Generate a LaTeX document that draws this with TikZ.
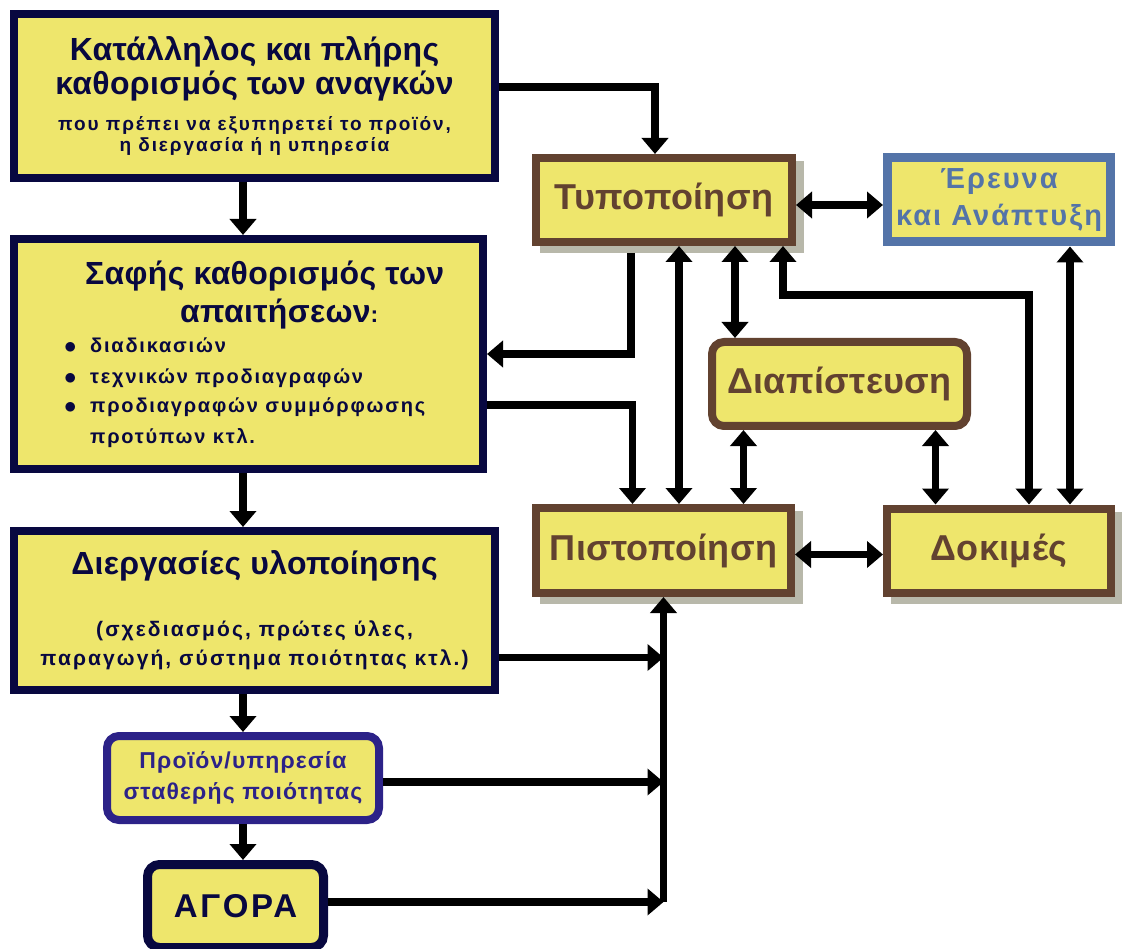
\documentclass[tikz,border=0pt]{standalone}
\usepackage{fontspec}
\setmainfont{Liberation Sans}[LetterSpace=1]
\usetikzlibrary{arrows.meta,positioning,calc,shadows}
\definecolor{boxfill}{RGB}{238,230,108}
\definecolor{navy}{RGB}{8,8,64}
\definecolor{umber}{RGB}{98,66,48}
\definecolor{steel}{RGB}{84,116,168}
\definecolor{indigo}{RGB}{44,34,136}
\definecolor{shade}{RGB}{184,184,170}
\newcommand{\bigtxt}{\fontsize{32pt}{34pt}\selectfont\bfseries}
\newcommand{\subtxt}{\fontsize{19pt}{21pt}\selectfont\bfseries\addfontfeatures{LetterSpace=10}}
\newcommand{\listtxt}{\fontsize{20pt}{29pt}\selectfont\bfseries\addfontfeatures{LetterSpace=9}}
\newcommand{\proctxt}{\fontsize{21pt}{29pt}\selectfont\bfseries\addfontfeatures{LetterSpace=10}}
\newcommand{\prodtxt}{\fontsize{23pt}{31pt}\selectfont\bfseries\addfontfeatures{LetterSpace=5}}
\newcommand{\boxtxt}{\fontsize{36pt}{38pt}\selectfont\bfseries}
\newcommand{\rdtxt}{\fontsize{29pt}{37pt}\selectfont\bfseries\addfontfeatures{LetterSpace=7}}
\newcommand{\agoratxt}{\fontsize{33pt}{36pt}\selectfont\bfseries\addfontfeatures{LetterSpace=8}}
\newcommand{\dotmark}{\makebox[26pt][l]{\raisebox{-1pt}{\fontsize{26pt}{26pt}\selectfont$\bullet$}}}
\tikzset{
  >={Triangle[width=26pt,length=16pt]},
  font=\bfseries,
  yel/.style      ={fill=boxfill, align=center, inner sep=0pt},
  navybox/.style  ={yel, draw=navy, text=navy, line width=8pt},
  navyround/.style={yel, draw=navy, text=navy, line width=9pt, rounded corners=12pt},
  prodbox/.style  ={yel, draw=indigo, text=indigo, line width=8pt, rounded corners=12pt},
  brownbox/.style ={yel, draw=umber, text=umber, line width=8pt, minimum width=255pt, minimum height=84pt, font=\boxtxt},
  shadowed/.style ={drop shadow={shadow xshift=8pt, shadow yshift=-7pt, fill=shade, draw=shade, opacity=1}},
  rdbox/.style    ={yel, draw=steel, text=steel, line width=9pt},
  itm/.style      ={anchor=base west, inner sep=0pt, text=navy},
  arr/.style      ={->, line width=7.5pt},
  dbl/.style      ={<->, line width=7.5pt},
}

\begin{document}
\begin{tikzpicture}
  \useasboundingbox (0,0) rectangle (1122pt,-949pt);

  % left column
  \node[navybox, font=\bigtxt, minimum width=481pt, minimum height=164pt] (need) at (254.5pt,-96pt)
    {Κατάλληλος και πλήρης\\ καθορισμός των αναγκών\\[2pt]
     \subtxt που πρέπει να εξυπηρετεί το προϊόν,\\[-13pt] \subtxt η διεργασία ή η υπηρεσία};
  \node[navybox, minimum width=469pt, minimum height=230pt, below=53pt of need.south west, anchor=north west] (breq) {};
  \node[itm, font=\bigtxt] (breqa) at ([shift={(75pt,-50pt)}]breq.north west) {Σαφής καθορισμός των};
  \node[itm, font=\bigtxt] (breqb) at ([shift={(170pt,-88pt)}]breq.north west) {απαιτήσεων{\prodtxt :}};
  \node[itm, font=\listtxt] (item1) at ([shift={(54pt,-118pt)}]breq.north west) {\dotmark διαδικασιών};
  \node[itm, font=\listtxt] (item2) at ([shift={(54pt,-149pt)}]breq.north west) {\dotmark τεχνικών προδιαγραφών};
  \node[itm, font=\listtxt] (item3) at ([shift={(54pt,-178pt)}]breq.north west) {\dotmark προδιαγραφών συμμόρφωσης};
  \node[itm, font=\listtxt] (item4) at ([shift={(80pt,-208pt)}]breq.north west) {προτύπων κτλ.};
  \node[navybox, font=\bigtxt, minimum width=481pt, minimum height=159pt, below=54pt of breq.south west, anchor=north west] (proc)
    {Διεργασίες υλοποίησης\\[28pt]
     \proctxt (σχεδιασμός, πρώτες ύλες,\\[-5pt] \proctxt παραγωγή, σύστημα ποιότητας κτλ.)};
  \node[prodbox, font=\prodtxt, minimum width=272pt, minimum height=84pt, below right=38pt and 93pt of proc.south west, anchor=north west] (prod)
    {Προϊόν/υπηρεσία\\ σταθερής ποιότητας};
  \node[navyround, font=\agoratxt, minimum width=176pt, minimum height=83pt, below right=36pt and 40pt of prod.south west, anchor=north west] (agora)
    {ΑΓΟΡΑ};

  % right part
  \node[brownbox, shadowed, minimum width=256pt, below right=144pt and 33pt of need.north east, anchor=north west] (typ)
    {Τυποποίηση};
  \node[rdbox, font=\rdtxt, minimum width=223pt, minimum height=84pt, right=87pt of typ] (rnd)
    {Έρευνα\\ και Ανάπτυξη};
  \node[brownbox, rounded corners=12pt, below right=92pt and -88pt of typ.south east, anchor=north west] (accr)
    {Διαπίστευση};
  \node[brownbox, shadowed, minimum height=85pt, below=258pt of typ.south west, anchor=north west] (cert)
    {Πιστοποίηση};
  \node[brownbox, shadowed, minimum width=224pt, right=88pt of cert] (test)
    {Δοκιμές};

  % connectors, left column
  \draw[arr] (need.south -| prod.south) -- (breq.north -| prod.south);
  \draw[arr] (breq.south -| prod.south) -- (proc.north -| prod.south);
  \draw[arr] (proc.south -| prod.south) -- (prod.south |- prod.north);
  \draw[arr] (prod.south) -- (prod.south |- agora.north);

  % connectors, right part
  \draw[arr] ([yshift=9pt]need.east) -| ([xshift=-9pt]typ.north);
  \draw[arr] ([xshift=-33pt,yshift=-7pt]typ.south) |- (breq.east);
  \draw[arr] ([yshift=-51pt]breq.east) -| ([xshift=-31pt]cert.north);
  \draw[dbl] ([xshift=15pt]typ.south) -- ([xshift=15pt]typ.south |- cert.north);
  \draw[dbl] ([xshift=71pt]typ.south) -- ([xshift=71pt]typ.south |- accr.north);
  \draw[dbl] ([xshift=-96pt]accr.south) -- ([xshift=-96pt]accr.south |- cert.north);
  \draw[dbl] ([xshift=96pt]accr.south) -- ([xshift=96pt]accr.south |- test.north);
  \draw[dbl] ([xshift=30pt]test.north) |- ([xshift=119pt,yshift=-49pt]typ.south) -- ([xshift=119pt]typ.south);
  \draw[dbl] ([xshift=71pt]test.north) -- ([xshift=71pt]rnd.south);
  \draw[dbl] ([yshift=-5pt]typ.east) -- ([yshift=-5pt]typ.east -| rnd.west);
  \draw[dbl] ([yshift=-4pt]cert.east) -- ([yshift=-4pt]cert.east -| test.west);

  % feed into certification
  \coordinate (foot) at ($(agora.east -| cert.south)+(0,4pt)$);
  \draw[arr] (foot) -- (cert.south);
  \draw[arr] ([yshift=-47pt]proc.east) -- ([yshift=-47pt]proc.east -| foot);
  \draw[arr] ([yshift=-4pt]prod.east) -- ([yshift=-4pt]prod.east -| foot);
  \draw[arr] ([yshift=4pt]agora.east) -- (foot);
\end{tikzpicture}
\end{document}
